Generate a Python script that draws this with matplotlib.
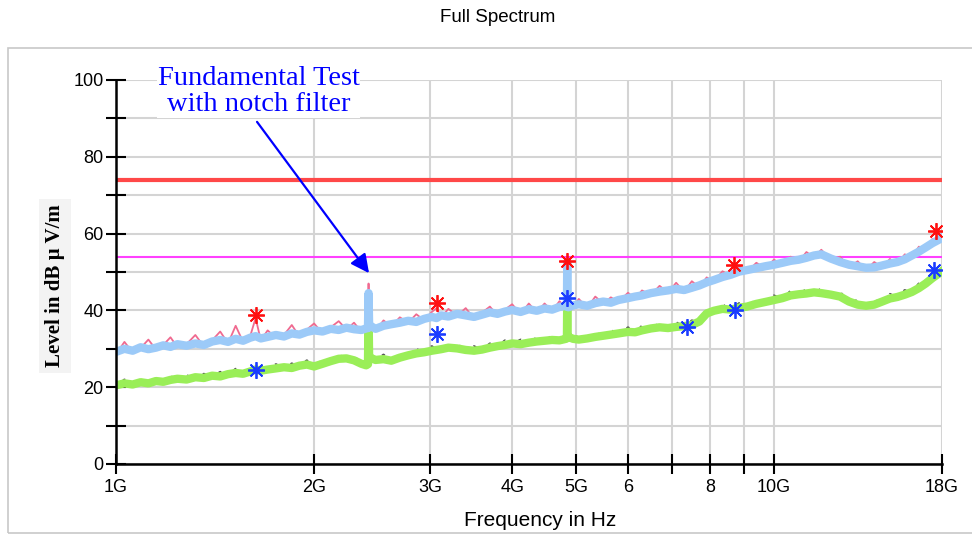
import matplotlib
matplotlib.use("Agg")
import matplotlib.pyplot as plt
from matplotlib.patches import Rectangle

# ---------------- data ----------------
freq_ghz = [1.00, 1.03, 1.06, 1.09, 1.12, 1.15, 1.18, 1.21, 1.24, 1.28,
            1.32, 1.36, 1.40, 1.44, 1.48, 1.52, 1.56, 1.60, 1.63, 1.66,
            1.70, 1.75, 1.80, 1.85, 1.90, 1.95, 2.00, 2.06, 2.12, 2.18,
            2.24, 2.30, 2.36, 2.40, 2.415, 2.42, 2.425, 2.44, 2.48, 2.55,
            2.62, 2.70, 2.78, 2.86, 2.94, 3.02, 3.07, 3.12, 3.20, 3.30,
            3.40, 3.50, 3.60, 3.70, 3.80, 3.90, 4.00, 4.12, 4.24, 4.36,
            4.48, 4.60, 4.72, 4.83, 4.845, 4.85, 4.855, 4.87, 4.95, 5.05,
            5.20, 5.35, 5.50, 5.65, 5.80, 6.00, 6.15, 6.30, 6.50, 6.70,
            6.90, 7.10, 7.30, 7.50, 7.70, 7.90, 8.10, 8.35, 8.60, 8.85,
            9.10, 9.40, 9.70, 10.0, 10.3, 10.6, 10.9, 11.2, 11.5, 11.8,
            12.2, 12.6, 13.0, 13.4, 13.8, 14.2, 14.6, 15.0, 15.4, 15.8,
            16.2, 16.6, 17.0, 17.4, 17.8, 18.0]

peak_blue = [29.2, 30.0, 29.5, 30.4, 29.9, 30.3, 30.9, 30.5, 31.2, 30.8,
             31.4, 31.0, 31.9, 32.3, 31.8, 32.6, 32.1, 32.9, 33.3, 32.7,
             33.1, 33.6, 33.2, 34.0, 33.7, 34.4, 34.8, 34.5, 35.2, 34.9,
             35.5, 35.1, 34.9, 35.3, 35.4, 44.5, 35.6, 35.9, 35.2, 36.0,
             36.4, 36.8, 37.3, 37.0, 37.8, 38.3, 38.0, 38.7, 38.4, 39.1,
             38.7, 38.3, 38.9, 39.5, 39.1, 39.7, 40.1, 39.6, 40.3, 39.9,
             40.5, 40.2, 40.9, 41.2, 41.0, 52.5, 41.2, 40.8, 41.3, 41.6,
             41.2, 41.9, 42.3, 42.0, 42.7, 43.2, 43.6, 43.9, 44.5, 44.9,
             45.2, 45.6, 45.3, 45.9, 46.5, 47.3, 47.9, 48.7, 49.3, 50.1,
             50.5, 51.0, 51.5, 51.9, 52.4, 52.9, 53.2, 53.7, 54.3, 54.6,
             53.5, 52.6, 51.9, 51.5, 51.1, 51.2, 51.7, 52.2, 52.6, 53.3,
             54.3, 55.3, 56.4, 57.5, 58.4, 59.0]

peak_pink = [28.6, 31.8, 29.0, 30.2, 32.4, 29.8, 31.0, 33.0, 30.4, 31.2,
             33.6, 30.6, 32.2, 34.5, 31.4, 36.0, 31.8, 33.4, 38.0, 32.2,
             34.8, 32.8, 33.6, 36.2, 33.2, 35.0, 36.6, 34.0, 35.6, 37.2,
             35.0, 36.8, 34.4, 35.8, 35.6, 47.0, 35.2, 36.4, 34.6, 37.4,
             35.8, 38.2, 36.8, 39.0, 37.4, 39.6, 40.6, 38.2, 40.4, 38.6,
             40.6, 37.8, 39.4, 41.0, 38.6, 40.2, 41.6, 39.0, 41.8, 39.4,
             41.8, 39.8, 42.4, 40.6, 41.0, 52.5, 41.0, 42.6, 40.6, 43.0,
             40.6, 43.6, 41.8, 43.4, 42.2, 44.6, 43.0, 45.2, 44.0, 46.4,
             44.6, 47.2, 44.8, 47.6, 46.0, 48.6, 47.4, 50.2, 48.8, 51.6,
             50.0, 52.4, 51.0, 53.2, 51.8, 54.0, 52.6, 55.2, 53.8, 55.8,
             53.0, 54.0, 51.2, 52.8, 50.5, 52.6, 51.2, 53.4, 52.0, 54.6,
             53.8, 56.6, 55.8, 58.6, 57.8, 60.2]

avg_green = [20.5, 21.0, 20.7, 21.3, 21.0, 21.6, 21.4, 21.9, 22.2, 22.0,
             22.6, 22.4, 23.0, 22.8, 23.4, 23.7, 23.5, 24.1, 24.6, 24.3,
             24.6, 24.9, 25.2, 25.0, 25.6, 25.9, 25.4, 26.1, 26.8, 27.4,
             27.5, 27.0, 26.1, 25.7, 26.0, 39.0, 27.0, 27.6, 27.1, 27.3,
             26.9, 27.7, 28.3, 28.8, 29.1, 29.5, 29.7, 29.9, 30.3, 30.1,
             29.7, 29.5, 29.8, 30.3, 30.7, 31.0, 31.4, 31.2, 31.6, 31.9,
             32.1, 32.3, 32.2, 32.6, 32.8, 43.0, 33.0, 33.1, 32.6, 32.4,
             32.7, 33.1, 33.4, 33.7, 34.0, 34.4, 34.3, 34.8, 35.3, 35.6,
             35.4, 35.7, 35.9, 36.2, 37.1, 39.2, 39.9, 40.4, 40.2, 40.7,
             41.0, 41.7, 42.2, 42.7, 43.2, 43.9, 44.2, 44.4, 44.7, 44.5,
             44.1, 43.6, 42.3, 41.5, 41.2, 41.5, 42.3, 43.1, 43.5, 44.1,
             44.8, 45.8, 47.0, 48.4, 49.6, 50.2]

avg_gray = [20.0, 21.9, 20.4, 22.2, 20.8, 22.5, 21.0, 22.8, 21.8, 23.0,
            22.2, 23.4, 22.5, 23.9, 23.0, 24.7, 23.1, 25.1, 24.2, 25.3,
            24.3, 25.9, 24.8, 26.1, 25.2, 26.9, 25.1, 27.1, 26.5, 28.4,
            27.2, 28.1, 25.8, 26.8, 25.8, 38.0, 26.8, 28.6, 26.8, 28.4,
            26.6, 28.8, 28.0, 29.9, 28.8, 30.6, 29.4, 31.0, 30.0, 31.2,
            29.4, 30.6, 29.5, 31.3, 30.4, 32.1, 31.1, 32.3, 31.3, 32.9,
            31.8, 33.4, 32.0, 33.6, 32.6, 42.0, 32.8, 34.2, 32.3, 33.5,
            32.4, 34.2, 33.1, 34.8, 33.7, 35.5, 34.0, 35.9, 35.0, 36.7,
            35.1, 36.8, 35.6, 37.3, 36.8, 40.3, 39.6, 41.5, 39.9, 41.8,
            40.7, 42.8, 41.9, 43.8, 42.9, 45.0, 43.9, 45.5, 44.4, 45.6,
            43.8, 44.7, 42.0, 42.6, 40.9, 42.6, 42.0, 44.2, 43.2, 45.2,
            44.5, 46.9, 46.7, 49.5, 49.3, 51.2]

peak_marker_f = [1.63, 3.07, 4.85, 8.70, 17.6]
peak_marker_v = [38.8, 41.8, 52.8, 51.8, 60.7]
avg_marker_f = [1.63, 3.07, 4.85, 7.38, 8.73, 17.5]
avg_marker_v = [24.5, 33.8, 43.2, 35.7, 40.1, 50.5]

limit_peak = 74.0
limit_avg = 54.0

xtick_vals = [1, 2, 3, 4, 5, 6, 7, 8, 9, 10, 18]
xtick_labels = ["1G", "2G", "3G", "4G", "5G", "6", "", "8", "", "10G", "18G"]
ytick_vals = [0, 10, 20, 30, 40, 50, 60, 70, 80, 90, 100]
ytick_labels = ["0", "", "20", "", "40", "", "60", "", "80", "", "100"]

# ---------------- figure ----------------
W, H = 972, 534
fig = plt.figure(figsize=(W / 100, H / 100), dpi=100)
fig.patch.set_facecolor("white")

# outer frame
fig.patches.append(Rectangle((8 / W, 1 - 533 / H), 1.2, (533 - 48) / H,
                             transform=fig.transFigure, fill=False,
                             edgecolor="#c8c8c8", linewidth=1.2))

L, R, T, B = 116, 942, 80, 464
ax = fig.add_axes([L / W, 1 - B / H, (R - L) / W, (B - T) / H])
ax.set_xscale("log")
ax.set_xlim(1, 18)
ax.set_ylim(0, 100)

ax.set_xticks(xtick_vals)
ax.set_xticklabels(xtick_labels)
ax.xaxis.set_minor_locator(matplotlib.ticker.NullLocator())
ax.set_yticks(ytick_vals)
ax.set_yticklabels(ytick_labels)

for s in ["top", "right"]:
    ax.spines[s].set_visible(False)
for s in ["left", "bottom"]:
    ax.spines[s].set_linewidth(1.8)
    ax.spines[s].set_color("black")
    ax.spines[s].set_zorder(6)

ax.tick_params(axis="both", direction="inout", length=14, width=1.5,
               labelsize=13, colors="black")
ax.tick_params(axis="x", pad=4)
ax.tick_params(axis="y", pad=2)
for lab in ax.get_xticklabels() + ax.get_yticklabels():
    lab.set_fontfamily("Liberation Sans")

# grid
for xv in xtick_vals:
    ax.axvline(xv, color="#d4d4d4", lw=1.5, zorder=0)
for yv in ytick_vals:
    ax.axhline(yv, color="#d4d4d4", lw=1.5, zorder=0)

# limit lines
ax.axhline(limit_peak, color="#ff4848", lw=3, zorder=2)
ax.axhline(limit_avg, color="#ff40ff", lw=1.5, zorder=2)

# traces
ax.plot(freq_ghz, avg_gray, color="#555555", lw=2.0, ls=(0, (1.0, 2.2)), zorder=3)
ax.plot(freq_ghz, avg_green, color="#9aee58", lw=6, zorder=3.2)
ax.plot(freq_ghz, peak_pink, color="#f06a90", lw=1.3, zorder=3.4)
ax.plot(freq_ghz, peak_blue, color="#9ccaf8", lw=6, zorder=3.6)

# markers
ax.plot(peak_marker_f, peak_marker_v, ls="none", marker=(8, 2, 0),
        ms=12, mew=1.3, color="#ff1010", zorder=5)
ax.plot(avg_marker_f, avg_marker_v, ls="none", marker=(8, 2, 0),
        ms=12, mew=1.3, color="#1a3cff", zorder=5)

# annotation
ax.text(1.649, 97.0, "Fundamental Test\nwith notch filter", ha="center",
        va="center", color="blue", fontsize=20.5, family="Liberation Serif",
        linespacing=1.05, zorder=7, clip_on=False,
        bbox=dict(facecolor="white", edgecolor="none", pad=0.5))
ax.annotate("", xy=(2.424, 49.7), xytext=(1.638, 89.1),
            arrowprops=dict(arrowstyle="-|>", color="blue", lw=1.6,
                            mutation_scale=28, shrinkA=0, shrinkB=0),
            annotation_clip=False, zorder=7)

# texts
fig.text(498 / W, 1 - 17 / H, "Full Spectrum", ha="center", va="center",
         fontsize=13.5, family="Liberation Sans")
fig.text(540 / W, 1 - 521 / H, "Frequency in Hz", ha="center", va="center",
         fontsize=15, family="Liberation Sans")
fig.text(55 / W, 1 - 286 / H, "Level in dB µ V/m", ha="center", va="center",
         rotation=90, fontsize=15, fontweight="bold", family="Liberation Serif",
         bbox=dict(facecolor="#f3f3f3", edgecolor="none", pad=4))

fig.savefig("out.png", dpi=100)
